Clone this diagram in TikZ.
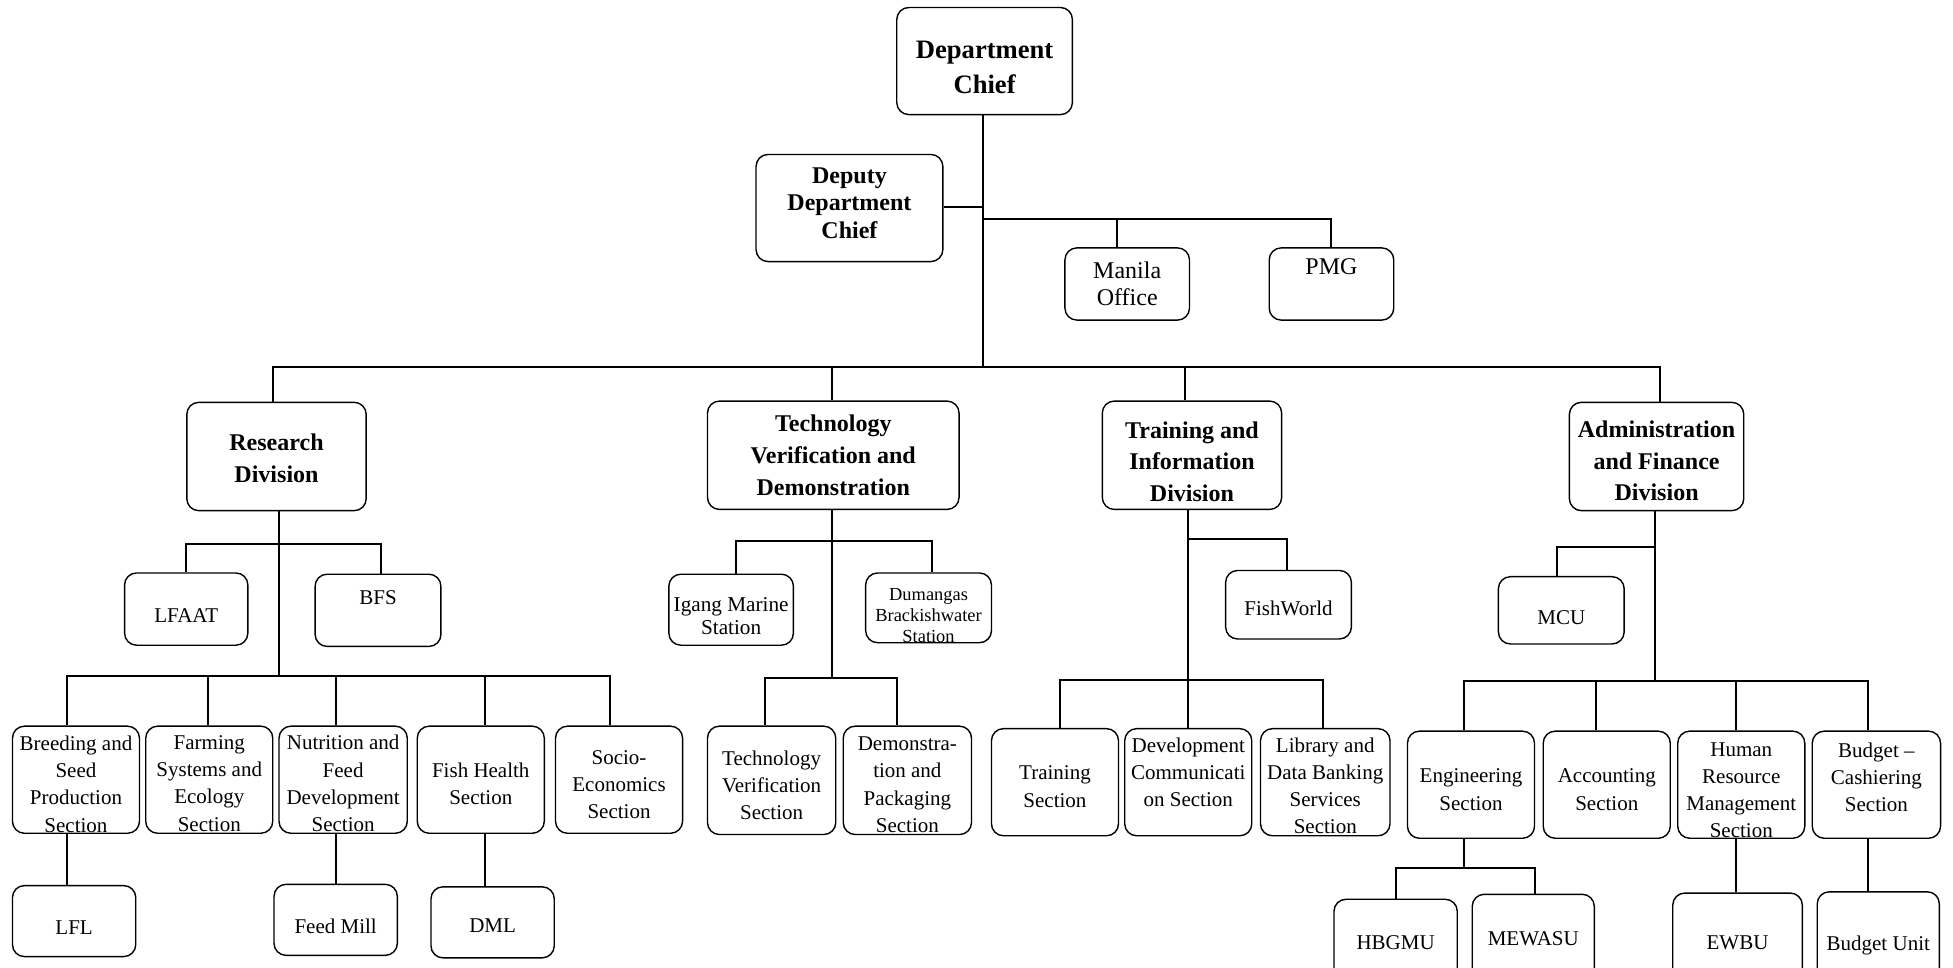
\documentclass[tikz,border=0pt]{standalone}
\usepackage{fontspec}
\setmainfont{Liberation Serif}
\usetikzlibrary{calc}

% one drawing unit
\newcommand{\pxu}{0.6227pt}

% box from its corners: [text offset], name, x1, y1, x2, y2, text style, text
\newcommand{\orgbox}[8][3]{%
  \node[box,minimum width={(#5-#3)*\pxu},minimum height={(#6-#4)*\pxu}]
    (#2) at ({(#3+#5)/2},{(#4+#6)/2}) {};
  \node[txt,#7] (#2-t) at ($(#2.center)+(0,#1)$) {#8};}
% vertical guide used by the connectors
\newcommand{\vx}[2]{\coordinate (#1) at (#2,0);}

\tikzset{
  box/.style={draw=black, line width=0.7pt, rounded corners=6pt, inner sep=0pt},
  txt/.style={align=center, inner sep=0pt},
  conn/.style={draw=black, line width=1pt},
  fchief/.style={font=\fontsize{13.3}{17.2}\selectfont\bfseries},
  fdep/.style={font=\fontsize{12}{13.7}\selectfont\bfseries},
  fdiv/.style={font=\fontsize{12}{15.8}\selectfont\bfseries},
  fmid/.style={font=\fontsize{12}{13.7}\selectfont},
  fsec/.style={font=\fontsize{10.5}{13.6}\selectfont},
  fstn/.style={font=\fontsize{10.6}{11.8}\selectfont},
  fsml/.style={font=\fontsize{9.2}{10.6}\selectfont},
}

\begin{document}
\begin{tikzpicture}[x=\pxu,y=-\pxu]
\useasboundingbox (0,0) rectangle (1568,777);
\clip (0,0) rectangle (1568,777);

% ---------- top level ----------
\orgbox[5]{chief}{720}{6}{861}{92}{fchief}{Department\\Chief}
\orgbox[-4]{dep}{607}{124}{757}{210}{fdep}{Deputy\\Department\\Chief}
\orgbox[0]{manila}{855}{199}{955}{257}{fmid}{Manila\\Office}
\orgbox[-14]{pmg}{1019}{199}{1119}{257}{fmid}{PMG}

% ---------- divisions ----------
\orgbox[1.5]{rd}{150}{323}{294}{410}{fdiv}{Research\\Division}
\orgbox[0]{tvd}{568}{322}{770}{409}{fdiv}{Technology\\Verification and\\Demonstration}
\orgbox[5]{tid}{885}{322}{1029}{409}{fdiv}{Training and\\Information\\Division}
\orgbox[3.5]{afd}{1260}{323}{1400}{410}{fdiv}{Administration\\and Finance\\Division}

% ---------- research ----------
\orgbox[5]{lfaat}{100}{460}{199}{518}{fsec}{LFAAT}
\orgbox[-10]{bfs}{253}{461}{354}{519}{fsec}{BFS}
\orgbox[3.5]{brd}{10}{583}{112}{669}{fsec}{Breeding and\\Seed\\Production\\Section}
\orgbox[3]{fse}{117}{583}{219}{669}{fsec}{Farming\\Systems and\\Ecology\\Section}
\orgbox[3]{nfd}{224}{583}{327}{669}{fsec}{Nutrition and\\Feed\\Development\\Section}
\orgbox[3.5]{fhs}{335}{583}{437}{669}{fsec}{Fish Health\\Section}
\orgbox[4]{ses}{446}{583}{548}{669}{fsec}{Socio-\\Economics\\Section}
\orgbox[5]{lfl}{10}{711}{109}{768}{fsec}{LFL}
\orgbox[5]{fm}{220}{710}{319}{767}{fsec}{Feed Mill}
\orgbox[3]{dml}{346}{712}{445}{769}{fsec}{DML}

% ---------- technology verification ----------
\orgbox[5]{igang}{537}{461}{637}{518}{fstn}{Igang Marine\\Station}
\node[box,minimum width={101*\pxu},minimum height={56*\pxu}] (dum) at (745.5,488) {};
\begin{scope}
  \clip[rounded corners=6pt] (dum.south west) rectangle (dum.north east);
  \node[txt,fsml] (dum-t) at ($(dum.center)+(0,6)$)
    {Dumangas\\Brackishwater\\Station};
\end{scope}
\orgbox[4]{tvs}{568}{583}{671}{670}{fsec}{Technology\\Verification\\Section}
\orgbox[3.5]{dps}{677}{583}{780}{670}{fsec}{Demonstra-\\tion and\\Packaging\\Section}

% ---------- training and information ----------
\orgbox[3]{fw}{984}{458}{1085}{513}{fsec}{FishWorld}
\orgbox[3.5]{trs}{796}{585}{898}{671}{fsec}{Training\\Section}
\orgbox[-8]{dcs}{903}{585}{1005}{671}{fsec}{Development\\Communicati\\on Section}
\orgbox[3]{lib}{1012}{585}{1116}{671}{fsec}{Library and\\Data Banking\\Services\\Section}

% ---------- administration and finance ----------
\orgbox[6]{mcu}{1203}{463}{1304}{517}{fsec}{MCU}
\orgbox[4]{eng}{1130}{587}{1232}{673}{fsec}{Engineering\\Section}
\orgbox[4]{acc}{1239}{587}{1341}{673}{fsec}{Accounting\\Section}
\orgbox[4.5]{hrm}{1347}{587}{1449}{673}{fsec}{Human\\Resource\\Management\\Section}
\orgbox[-6]{bcs}{1455}{587}{1558}{673}{fsec}{Budget --\\Cashiering\\Section}
\orgbox[1]{hbg}{1071}{722}{1170}{790}{fsec}{HBGMU}
\orgbox[1]{mew}{1182}{718}{1280}{788}{fsec}{MEWASU}
\orgbox[1]{ewbu}{1343}{717}{1447}{795}{fsec}{EWBU}
\orgbox[3]{bun}{1459}{716}{1557}{796}{fsec}{Budget Unit}

% ---------- junctions and guides ----------
\coordinate (jdep) at (789,166);
\coordinate (jman) at (789,176);
\coordinate (jtop) at (789,295);
\coordinate (r1) at (224,437);  \coordinate (r2) at (224,543);
\coordinate (t1) at (668,434);  \coordinate (t2) at (668,544);
\coordinate (i1) at (954,433);  \coordinate (i2) at (954,546);
\coordinate (a1) at (1329,439); \coordinate (a2) at (1329,547);
\coordinate (e1) at (1175,697);
\vx{xman}{897}  \vx{xrd}{219}   \vx{xtid}{951}  \vx{xafd}{1333}
\vx{xbfs}{306}  \vx{xbrd}{54}   \vx{xfse}{167}  \vx{xnfd}{270}
\vx{xfhs}{389}  \vx{xses}{490}
\vx{xig}{591}   \vx{xdu}{748}   \vx{xtvs}{614}  \vx{xdps}{720}
\vx{xfw}{1033}  \vx{xtrs}{851}  \vx{xlib}{1062}
\vx{xmcu}{1250} \vx{xeng}{1175} \vx{xacc}{1281} \vx{xhrm}{1394}
\vx{xbcs}{1500} \vx{xhbg}{1121} \vx{xmew}{1232}

% ---------- connectors: top ----------
\draw[conn] (chief.south -| jtop) -- (jtop);
\draw[conn] (dep.east |- jdep) -- (jdep);
\draw[conn] (jman) -| (manila.north -| xman);
\draw[conn] (jman) -| (pmg.north);
\draw[conn] (jtop) -| (rd.north -| xrd);
\draw[conn] (jtop) -| (tvd.north -| t1);
\draw[conn] (jtop) -| (tid.north -| xtid);
\draw[conn] (jtop) -| (afd.north -| xafd);

% ---------- connectors: research ----------
\draw[conn] (rd.south -| r1) -- (r2);
\draw[conn] (r1) -| (lfaat.north);
\draw[conn] (r1) -| (bfs.north -| xbfs);
\draw[conn] (r2) -| (brd.north -| xbrd);
\draw[conn] (r2) -| (fse.north -| xfse);
\draw[conn] (r2) -| (nfd.north -| xnfd);
\draw[conn] (r2) -| (fhs.north -| xfhs);
\draw[conn] (r2) -| (ses.north -| xses);
\draw[conn] (brd.south -| xbrd) -- (lfl.north -| xbrd);
\draw[conn] (nfd.south -| xnfd) -- (fm.north -| xnfd);
\draw[conn] (fhs.south -| xfhs) -- (dml.north -| xfhs);

% ---------- connectors: technology verification ----------
\draw[conn] (tvd.south -| t1) -- (t2);
\draw[conn] (t1) -| (igang.north -| xig);
\draw[conn] (t1) -| (dum.north -| xdu);
\draw[conn] (t2) -| (tvs.north -| xtvs);
\draw[conn] (t2) -| (dps.north -| xdps);

% ---------- connectors: training and information ----------
\draw[conn] (tid.south -| i1) -- (i2);
\draw[conn] (i1) -| (fw.north -| xfw);
\draw[conn] (i2) -| (trs.north -| xtrs);
\draw[conn] (i2) -- (dcs.north -| i2);
\draw[conn] (i2) -| (lib.north -| xlib);

% ---------- connectors: administration and finance ----------
\draw[conn] (afd.south -| a1) -- (a2);
\draw[conn] (a1) -| (mcu.north -| xmcu);
\draw[conn] (a2) -| (eng.north -| xeng);
\draw[conn] (a2) -| (acc.north -| xacc);
\draw[conn] (a2) -| (hrm.north -| xhrm);
\draw[conn] (a2) -| (bcs.north -| xbcs);
\draw[conn] (eng.south -| e1) -- (e1);
\draw[conn] (e1) -| (hbg.north -| xhbg);
\draw[conn] (e1) -| (mew.north -| xmew);
\draw[conn] (hrm.south -| xhrm) -- (ewbu.north -| xhrm);
\draw[conn] (bcs.south -| xbcs) -- (bun.north -| xbcs);
\end{tikzpicture}
\end{document}
